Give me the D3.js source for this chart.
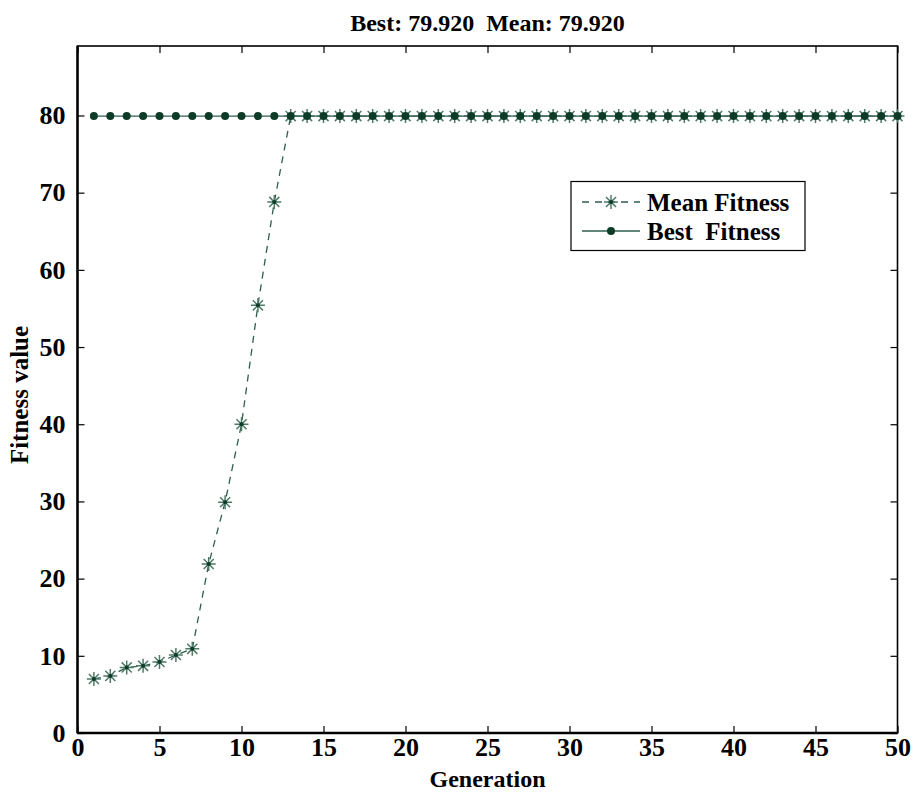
<!DOCTYPE html>
<html>
<head>
<meta charset="utf-8">
<script src="https://cdn.jsdelivr.net/npm/d3@7"></script>
<style>
  html, body { margin: 0; padding: 0; background: #fff; }
  svg text { font-family: "Liberation Serif", "Times New Roman", serif; font-weight: bold; fill: #000; white-space: pre; }
</style>
</head>
<body>
<svg id="chart" width="915" height="792"></svg>
<script>
// Genetic algorithm progress: mean and best fitness per generation
const generations = d3.range(1, 51);
const meanFitness = [
  7.0, 7.4, 8.5, 8.7, 9.2, 10.1, 10.9, 21.9, 29.9, 40.0,
  55.4, 68.8, 79.92, 79.92, 79.92, 79.92, 79.92, 79.92, 79.92, 79.92,
  79.92, 79.92, 79.92, 79.92, 79.92, 79.92, 79.92, 79.92, 79.92, 79.92,
  79.92, 79.92, 79.92, 79.92, 79.92, 79.92, 79.92, 79.92, 79.92, 79.92,
  79.92, 79.92, 79.92, 79.92, 79.92, 79.92, 79.92, 79.92, 79.92, 79.92
];
const bestFitness = generations.map(() => 79.92);
const xTicks = [0, 5, 10, 15, 20, 25, 30, 35, 40, 45, 50];
const yTicks = [0, 10, 20, 30, 40, 50, 60, 70, 80];
const titleText = "Best: 79.920  Mean: 79.920";
const legendLabels = ["Mean Fitness", "Best  Fitness"];

const svg = d3.select("#chart");
const plotLeft = 77.5, plotRight = 897.5, plotTop = 46, plotBottom = 733;

const x = d3.scaleLinear().domain([0, 50]).range([plotLeft, plotRight]);
const y = d3.scaleLinear().domain([0, 89]).range([plotBottom, plotTop]);

const lineColor = "#2f5e4c";
const markColor = "#0e3b28";
const starColor = "#4f7a68";

// axes with inward ticks, mirrored on top and right
const tickLen = 7;
const gx = svg.append("g").attr("transform", `translate(0,${plotBottom})`)
  .call(d3.axisBottom(x).tickValues(xTicks).tickSize(-tickLen).tickPadding(tickLen + 2).tickFormat(d3.format("d")));
const gxTop = svg.append("g").attr("transform", `translate(0,${plotTop})`)
  .call(d3.axisTop(x).tickValues(xTicks).tickSize(-tickLen).tickFormat(""));
const gy = svg.append("g").attr("transform", `translate(${plotLeft},0)`)
  .call(d3.axisLeft(y).tickValues(yTicks).tickSize(-tickLen).tickPadding(tickLen + 5).tickFormat(d3.format("d")));
const gyRight = svg.append("g").attr("transform", `translate(${plotRight},0)`)
  .call(d3.axisRight(y).tickValues(yTicks).tickSize(-tickLen).tickFormat(""));

[gx, gxTop, gy, gyRight].forEach(g => {
  g.select(".domain").remove();
  g.selectAll(".tick line").attr("stroke", "#000").attr("stroke-width", 1.2);
  g.selectAll(".tick text").style("font-size", "26px").attr("fill", "#000");
});
gx.selectAll(".tick text").attr("dy", "0.55em");

// plot frame
svg.append("rect")
  .attr("x", plotLeft).attr("y", plotTop)
  .attr("width", plotRight - plotLeft).attr("height", plotBottom - plotTop)
  .attr("fill", "none").attr("stroke", "#000").attr("stroke-width", 1.6);
svg.append("line").attr("x1", plotLeft).attr("x2", plotLeft).attr("y1", plotTop).attr("y2", plotBottom)
  .attr("stroke", "#000").attr("stroke-width", 2.4);
svg.append("line").attr("x1", plotLeft).attr("x2", plotRight).attr("y1", plotBottom).attr("y2", plotBottom)
  .attr("stroke", "#000").attr("stroke-width", 2.4);

// star marker (plus + cross) as used for the mean series
function starPath(cx, cy, r) {
  const d = r * 0.72;
  return `M${cx - r},${cy}L${cx + r},${cy}M${cx},${cy - r}L${cx},${cy + r}` +
         `M${cx - d},${cy - d}L${cx + d},${cy + d}M${cx - d},${cy + d}L${cx + d},${cy - d}`;
}

const line = d3.line().x(d => x(d[0])).y(d => y(d[1]));

// best fitness: solid line with filled dots
const bestPts = generations.map((g, i) => [g, bestFitness[i]]);
svg.append("path").attr("d", line(bestPts))
  .attr("fill", "none").attr("stroke", lineColor).attr("stroke-width", 1.3);

// mean fitness: dashed line with stars
const meanPts = generations.map((g, i) => [g, meanFitness[i]]);
svg.append("path").attr("d", line(meanPts))
  .attr("fill", "none").attr("stroke", lineColor).attr("stroke-width", 1.3)
  .attr("stroke-dasharray", "7,6");

svg.append("g").selectAll("path").data(meanPts).join("path")
  .attr("d", d => starPath(x(d[0]), y(d[1]), 7))
  .attr("stroke", starColor).attr("stroke-width", 1.5).attr("fill", "none");
svg.append("g").selectAll("circle").data(meanPts).join("circle")
  .attr("cx", d => x(d[0])).attr("cy", d => y(d[1])).attr("r", 2)
  .attr("fill", markColor);

svg.append("g").selectAll("circle").data(bestPts).join("circle")
  .attr("cx", d => x(d[0])).attr("cy", d => y(d[1])).attr("r", 4)
  .attr("fill", markColor);

// title and axis labels
svg.append("text").attr("x", (plotLeft + plotRight) / 2).attr("y", 31)
  .attr("text-anchor", "middle").style("font-size", "24px").text(titleText);
svg.append("text").attr("x", (plotLeft + plotRight) / 2).attr("y", 787)
  .attr("text-anchor", "middle").style("font-size", "24px").text("Generation");
svg.append("text").attr("transform", "translate(28,395) rotate(-90)")
  .attr("text-anchor", "middle").style("font-size", "25px").text("Fitness value");

// legend
const lg = svg.append("g");
lg.append("rect").attr("x", 571).attr("y", 181.5).attr("width", 234).attr("height", 69)
  .attr("fill", "#fff").attr("stroke", "#000").attr("stroke-width", 1.2);
const rows = [202, 231];
const lx1 = 582, lx2 = 640, lmid = (lx1 + lx2) / 2;
lg.append("line").attr("x1", lx1).attr("x2", lx2).attr("y1", rows[0]).attr("y2", rows[0])
  .attr("stroke", lineColor).attr("stroke-width", 1.3).attr("stroke-dasharray", "7,6");
lg.append("path").attr("d", starPath(lmid, rows[0], 7))
  .attr("stroke", starColor).attr("stroke-width", 1.5).attr("fill", "none");
lg.append("circle").attr("cx", lmid).attr("cy", rows[0]).attr("r", 2).attr("fill", markColor);
lg.append("line").attr("x1", lx1).attr("x2", lx2).attr("y1", rows[1]).attr("y2", rows[1])
  .attr("stroke", lineColor).attr("stroke-width", 1.3);
lg.append("circle").attr("cx", lmid).attr("cy", rows[1]).attr("r", 4).attr("fill", markColor);
lg.selectAll("text.lab").data(legendLabels).join("text").attr("class", "lab")
  .attr("x", 647).attr("y", (d, i) => rows[i]).attr("dy", "0.35em")
  .style("font-size", "25px")
  .text(d => d);
</script>
</body>
</html>
